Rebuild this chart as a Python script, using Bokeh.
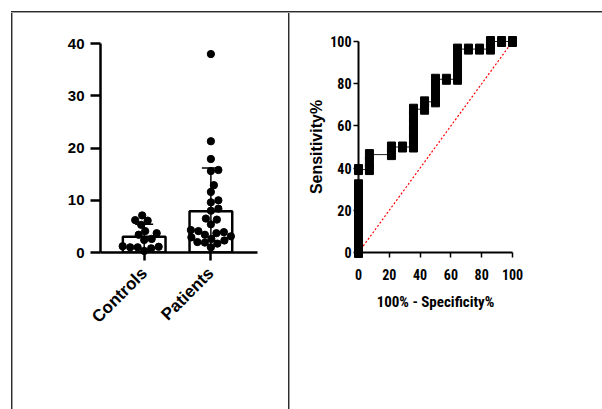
import math
from bokeh.plotting import figure
from bokeh.models import FixedTicker, Div
from bokeh.layouts import row, column
from bokeh.embed import file_html
from bokeh.resources import INLINE

# ---------------- data ----------------
groups = ["Controls", "Patients"]
group_means = [3.0, 7.9]
group_sds = [2.4, 8.3]
controls_vals = [7.1, 6.2, 6.1, 5.3, 4.1, 3.7, 3.4, 2.6, 2.4, 1.2, 1.1, 1.0, 1.0, 0.8, 0.3]
patients_vals = [38.0, 21.3, 17.9, 15.8, 15.6, 12.9, 11.6, 10.0, 9.6, 8.4, 8.0, 6.5, 6.3,
                 5.4, 4.3, 4.1, 3.9, 3.7, 3.4, 3.1, 2.9, 2.6, 2.3, 2.0, 1.9, 1.7, 1.0]
left_yticks = [0, 10, 20, 30, 40]

roc_x = [0, 0, 0, 0, 0, 0, 0, 0, 0, 0, 0,
         7.1, 7.1, 7.1, 21.4, 21.4, 28.6,
         35.7, 35.7, 35.7, 35.7, 35.7, 35.7, 42.9, 42.9,
         50, 50, 50, 50, 57.1, 64.3, 64.3, 64.3, 64.3, 64.3,
         71.4, 78.6, 85.7, 85.7, 92.9, 100]
roc_y = [0, 3.6, 7.1, 10.7, 14.3, 17.9, 21.4, 25.0, 28.6, 32.1, 39.3,
         39.3, 42.9, 46.4, 46.4, 50.0, 50.0,
         50.0, 53.6, 57.1, 60.7, 64.3, 67.9, 67.9, 71.4,
         71.4, 75.0, 78.6, 82.1, 82.1, 82.1, 85.7, 89.3, 92.9, 96.4,
         96.4, 96.4, 96.4, 100, 100, 100]
chance_x = [0, 100]
chance_y = [0, 100]
roc_ticks = [0, 20, 40, 60, 80, 100]

BOLD_FONT = "'Liberation Sans', Arial, sans-serif"
NARROW_FONT = "'Roboto Condensed', 'Liberation Sans Narrow', 'Arial Narrow', 'Liberation Sans', sans-serif"

# ---------------- left chart ----------------
W1, H1 = 275, 396
BL, BR, BT, BB = 87, 31, 24, 157
xr1 = (-0.655, 1.699)
yr1 = (0, 40.4)
px_per_x = (W1 - BL - BR) / (xr1[1] - xr1[0])
px_per_y = (H1 - BT - BB) / (yr1[1] - yr1[0])


def beeswarm(vals, center, diam=7.4):
    placed = []
    xs = [0.0] * len(vals)
    order = sorted(range(len(vals)), key=lambda i: vals[i])
    for i in order:
        yp = vals[i] * px_per_y
        best = None
        for k in range(0, 400):
            for sgn in ((1,) if k == 0 else (1, -1)):
                off = sgn * k * 0.5
                if all((off - a) ** 2 + (yp - b) ** 2 >= diam ** 2 for a, b in placed):
                    best = off
                    break
            if best is not None:
                break
        placed.append((best, yp))
        xs[i] = center + best / px_per_x
    return xs


p1 = figure(width=W1, height=H1, x_range=xr1, y_range=yr1,
            output_backend="svg", toolbar_location=None,
            min_border_left=BL, min_border_right=BR, min_border_top=BT, min_border_bottom=BB)
p1.outline_line_color = None
p1.xgrid.visible = False
p1.ygrid.visible = False

cat_x = list(range(len(groups)))
p1.vbar(x=cat_x, top=group_means, width=0.64, fill_color="white",
        line_color="black", line_width=2.5)
err_lo = [max(0, m - s) for m, s in zip(group_means, group_sds)]
err_hi = [m + s for m, s in zip(group_means, group_sds)]
p1.segment(x0=cat_x, y0=err_lo, x1=cat_x, y1=err_hi, line_color="black", line_width=1.5)
p1.segment(x0=[c - 0.135 for c in cat_x], y0=err_hi, x1=[c + 0.135 for c in cat_x], y1=err_hi,
           line_color="black", line_width=1.5)

for ci, vals in enumerate([controls_vals, patients_vals]):
    xs = beeswarm(vals, ci)
    p1.scatter(xs, vals, size=7.3, marker="circle", fill_color="black", line_color="black",
               level="overlay")

p1.xaxis.ticker = FixedTicker(ticks=cat_x)
p1.xaxis.major_label_overrides = {i: g for i, g in enumerate(groups)}
p1.xaxis.major_label_orientation = math.pi / 4
p1.xaxis.minor_tick_line_color = None
p1.xaxis.major_tick_out = 8
p1.xaxis.major_tick_in = 0
p1.xaxis.major_label_standoff = 10
p1.xaxis.major_label_text_font_size = "17px"
p1.yaxis.ticker = FixedTicker(ticks=left_yticks)
p1.yaxis.bounds = (0, 40)
p1.yaxis.minor_tick_line_color = None
p1.yaxis.major_tick_out = 10
p1.yaxis.major_tick_in = 0
p1.yaxis.major_label_standoff = 6
p1.yaxis.major_label_text_font_size = "15px"
for ax in (p1.xaxis, p1.yaxis):
    ax.axis_line_width = 2.5
    ax.axis_line_color = "black"
    ax.major_tick_line_width = 2.5
    ax.major_tick_line_color = "black"
    ax.major_label_text_font = BOLD_FONT
    ax.major_label_text_font_style = "bold"
    ax.major_label_text_color = "black"

# ---------------- right chart (ROC) ----------------
W2, H2 = 312, 396
p2 = figure(width=W2, height=H2, x_range=(0, 100), y_range=(0, 100),
            output_backend="svg", toolbar_location=None,
            min_border_left=68, min_border_right=90, min_border_top=28, min_border_bottom=154)
p2.outline_line_color = None
p2.xgrid.visible = False
p2.ygrid.visible = False

p2.line(chance_x, chance_y, line_color="red", line_width=1.2, line_dash="2 2", level="overlay")
p2.line(roc_x, roc_y, line_color="#222222", line_width=1, level="overlay")
p2.rect(roc_x, roc_y, width=8, height=10, width_units="screen", height_units="screen",
        fill_color="black", line_color="black", level="overlay")

for ax in (p2.xaxis, p2.yaxis):
    ax.ticker = FixedTicker(ticks=roc_ticks)
    ax.minor_tick_line_color = None
    ax.major_tick_out = 5
    ax.major_tick_in = 0
    ax.axis_line_width = 2
    ax.axis_line_color = "black"
    ax.major_tick_line_width = 1.5
    ax.major_tick_line_color = "black"
    ax.major_label_text_font = NARROW_FONT
    ax.major_label_text_font_style = "bold"
    ax.major_label_text_font_size = "14px"
    ax.major_label_text_color = "black"
    ax.axis_label_text_font_style = "bold"
    ax.axis_label_text_color = "black"
p2.xaxis.major_label_standoff = 11
p2.yaxis.major_label_standoff = 2
p2.xaxis.axis_label = "100% - Specificity%"
p2.xaxis.axis_label_text_font = NARROW_FONT
p2.xaxis.axis_label_text_font_size = "15px"
p2.xaxis.axis_label_standoff = 10
p2.yaxis.axis_label = "Sensitivity%"
p2.yaxis.axis_label_text_font = BOLD_FONT
p2.yaxis.axis_label_text_font_size = "16px"
p2.yaxis.axis_label_standoff = 2

# ---------------- frame lines ----------------
H_GRAD = "linear-gradient(to bottom, #2b2b2b 50%, #a0a0a0 50%)"
V_GRAD = "linear-gradient(to right, #2b2b2b 50%, #a0a0a0 50%)"


def spacer(w, h):
    return Div(text="", width=w, height=h, margin=0)


def rule(w, h, grad):
    return Div(text="", width=w, height=h, margin=0, styles={"background": grad})


layout = column(
    spacer(602, 11),
    row(spacer(11, 2), rule(591, 2, H_GRAD)),
    row(spacer(11, H1), rule(2, H1, V_GRAD), p1, rule(2, H1, V_GRAD), p2),
)

open("out.html", "w").write(file_html(layout, INLINE))
